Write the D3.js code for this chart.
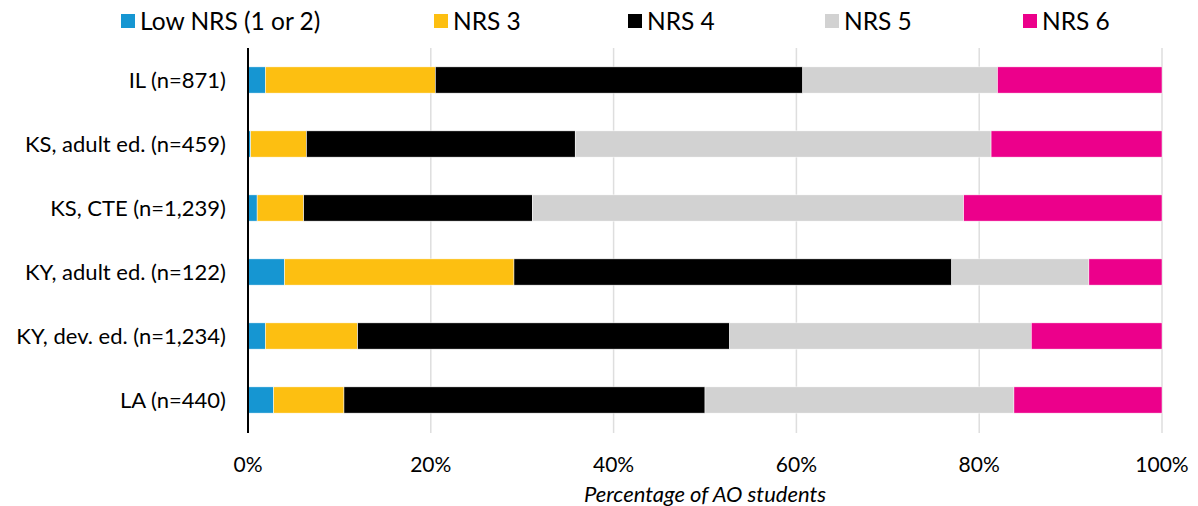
<!DOCTYPE html>
<html>
<head>
<meta charset="utf-8">
<script src="https://cdn.jsdelivr.net/npm/d3@7"></script>
<style>
  body { margin: 0; background: #fff; }
  text { font-family: Lato, "Open Sans", sans-serif; fill: #000; }
</style>
</head>
<body>
<div id="chart"></div>
<script>
// Chart data
var categories = ["IL (n=871)", "KS, adult ed. (n=459)", "KS, CTE (n=1,239)",
    "KY, adult ed. (n=122)", "KY, dev. ed. (n=1,234)", "LA (n=440)"];
var seriesNames = ["Low NRS (1 or 2)", "NRS 3", "NRS 4", "NRS 5", "NRS 6"];
var lowNRS = [1.9, 0.3, 1.0, 4.0, 1.9, 2.8];
var nrs3   = [18.6, 6.1, 5.1, 25.1, 10.1, 7.7];
var nrs4   = [40.2, 29.4, 25.0, 47.9, 40.7, 39.5];
var nrs5   = [21.3, 45.5, 47.2, 15.0, 33.0, 33.8];
var nrs6   = [18.0, 18.7, 21.7, 8.0, 14.3, 16.2];
var tickValues = [0, 20, 40, 60, 80, 100];
var colors = ["#1696d2", "#fdbf11", "#000000", "#d2d2d2", "#ec008b"];

var width = 1198, height = 506;
var margin = { top: 48, bottom: 74, left: 248, right: 36 };

var rows = categories.map(function(c, i) {
    return { cat: c, "Low NRS (1 or 2)": lowNRS[i], "NRS 3": nrs3[i],
        "NRS 4": nrs4[i], "NRS 5": nrs5[i], "NRS 6": nrs6[i] };
});

var svg = d3.select('#chart').append('svg')
    .attr('width', width)
    .attr('height', height);

var x = d3.scaleLinear()
    .domain([0, 100])
    .range([margin.left, width - margin.right]);

var y = d3.scaleBand()
    .domain(categories)
    .range([margin.top, height - margin.bottom])
    .paddingInner(0.59)
    .paddingOuter(0.295);

var color = d3.scaleOrdinal().domain(seriesNames).range(colors);

// gridlines
svg.append('g')
    .selectAll('line')
    .data(tickValues.filter(function(d) { return d > 0; }))
    .enter().append('line')
    .attr('x1', d => x(d)).attr('x2', d => x(d))
    .attr('y1', margin.top).attr('y2', height - margin.bottom + 1)
    .attr('stroke', '#dedede')
    .attr('stroke-width', 1.5);

var stacked = d3.stack().keys(seriesNames)(rows);

svg.append('g')
    .selectAll('g')
    .data(stacked)
    .enter().append('g')
    .attr('fill', d => color(d.key))
    .selectAll('rect')
    .data(d => d)
    .enter().append('rect')
    .attr('x', d => x(d[0]))
    .attr('width', d => x(d[1]) - x(d[0]))
    .attr('y', d => y(d.data.cat))
    .attr('height', y.bandwidth())
    .attr('stroke', '#fff')
    .attr('stroke-width', 0.5);

// y axis line and labels
svg.append('line')
    .attr('x1', margin.left).attr('x2', margin.left)
    .attr('y1', margin.top).attr('y2', height - margin.bottom + 1)
    .attr('stroke', '#000')
    .attr('stroke-width', 2);

svg.append('g')
    .selectAll('text')
    .data(categories)
    .enter().append('text')
    .attr('x', margin.left - 22)
    .attr('y', d => y(d) + y.bandwidth() / 2)
    .attr('dy', '0.35em')
    .attr('text-anchor', 'end')
    .style('font-size', '22px')
    .text(d => d);

// x tick labels
svg.append('g')
    .selectAll('text')
    .data(tickValues)
    .enter().append('text')
    .attr('x', d => x(d))
    .attr('y', 465)
    .attr('dy', '0.35em')
    .attr('text-anchor', 'middle')
    .style('font-size', '21px')
    .text(d => d + '%');

svg.append('text')
    .attr('x', x(50))
    .attr('y', 494)
    .attr('dy', '0.35em')
    .attr('text-anchor', 'middle')
    .style('font-size', '22px')
    .style('font-style', 'italic')
    .text('Percentage of AO students');

// legend
var legendX = [121, 434, 628, 825, 1023];
var legend = svg.append('g')
    .selectAll('g')
    .data(seriesNames)
    .enter().append('g')
    .attr('transform', (d, i) => 'translate(' + legendX[i] + ',0)');

legend.append('rect')
    .attr('x', 0).attr('y', 14)
    .attr('width', 14).attr('height', 14)
    .attr('fill', d => color(d));

legend.append('text')
    .attr('x', 19)
    .attr('y', 21)
    .attr('dy', '0.35em')
    .style('font-size', '24.5px')
    .text(d => d);
</script>
</body>
</html>
